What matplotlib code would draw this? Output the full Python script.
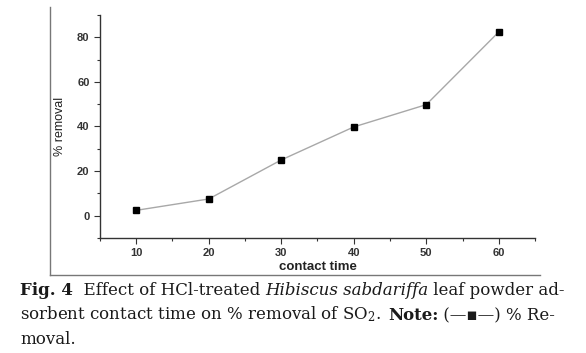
import numpy as np
from matplotlib import pyplot as plt
from matplotlib.lines import Line2D
from matplotlib.ticker import MultipleLocator

contact_time = [10, 20, 30, 40, 50, 60]
removal = [2.4, 7.5, 25.0, 39.8, 49.8, 82.4]

plt.rcParams['mathtext.fontset'] = 'dejavuserif'

fig = plt.figure(figsize=(5.86, 3.53), dpi=100)
ax = fig.add_axes([0.1706, 0.3258, 0.7424, 0.6317])

ax.plot(contact_time, removal, color='#a8a8a8', lw=1.0,
        marker='s', ms=4.5, mfc='black', mec='black')

ax.set_xlim(5, 65)
ax.set_ylim(-10, 90)
ax.set_xticks(contact_time)
ax.set_yticks([0, 20, 40, 60, 80])
ax.xaxis.set_minor_locator(MultipleLocator(5))
ax.yaxis.set_minor_locator(MultipleLocator(10))

for s in ['top', 'right']:
    ax.spines[s].set_visible(False)
for s in ['left', 'bottom']:
    ax.spines[s].set_color('#333333')
    ax.spines[s].set_linewidth(1.0)

ax.tick_params(which='major', direction='out', length=4, width=0.8,
               color='#333333', labelcolor='#333333', labelsize=8)
ax.tick_params(which='minor', direction='out', length=2, width=0.8,
               color='#333333')
for lab in ax.get_xticklabels() + ax.get_yticklabels():
    lab.set_fontfamily('Liberation Sans')
    lab.set_fontweight('bold')

ax.set_xlabel('contact time', fontfamily='Liberation Sans', fontweight='bold',
              fontsize=9.5, color='#222222', labelpad=2)
ax.set_ylabel('% removal', fontfamily='Liberation Sans', fontsize=9,
              color='#222222', labelpad=8)

# outer frame of the scanned figure
fig.add_artist(Line2D([0.0853, 0.0853], [0.980, 0.221], color='#777777', lw=1.0))
fig.add_artist(Line2D([0.0853, 0.9215], [0.221, 0.221], color='#777777', lw=1.0))

# caption, built piece by piece
fam = ['DejaVu Serif', 'DejaVu Sans']
fs = 12
col = '#1a1a1a'

def piece(prev, txt, **kw):
    return ax.annotate(txt, xy=(1, 0), xycoords=prev, va='bottom', ha='left',
                       fontsize=fs, family=fam, color=col, annotation_clip=False, **kw)

t = fig.text(20 / 586, 1 - 299 / 353, 'Fig. 4', fontsize=fs, family=fam,
             fontweight='bold', color=col, va='bottom')
t = piece(t, '  Effect of HCl-treated ')
t = piece(t, 'Hibiscus sabdariffa', style='italic')
t = piece(t, ' leaf powder ad-')

t = fig.text(20 / 586, 1 - 324 / 353, 'sorbent contact time on % removal of SO$_2$.  ',
             fontsize=fs, family=fam, color=col, va='bottom')
t = piece(t, 'Note:', fontweight='bold')
t = piece(t, ' (\u2014\u25aa\u2014) % Re-')

fig.text(20 / 586, 1 - 348 / 353, 'moval.', fontsize=fs, family=fam,
         color=col, va='bottom')

fig.savefig('out.png', dpi=100)
